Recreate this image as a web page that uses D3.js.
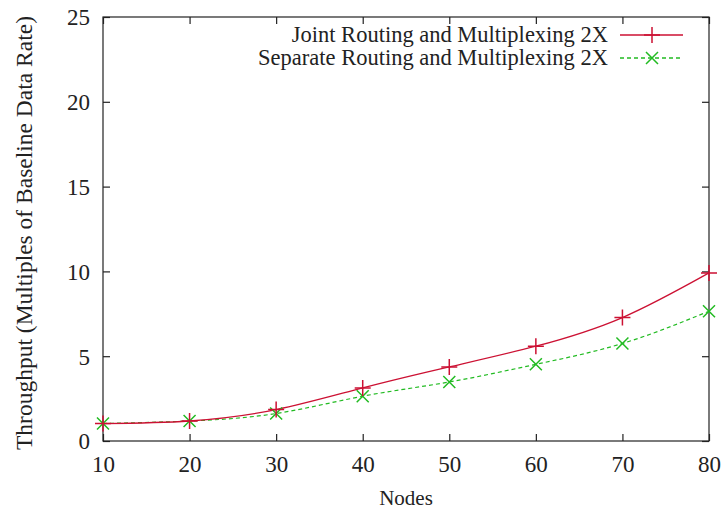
<!DOCTYPE html>
<html>
<head>
<meta charset="utf-8">
<script src="https://cdn.jsdelivr.net/npm/d3@7"></script>
<style>
  body { margin: 0; background: #fff; }
  svg { display: block; font-family: "Liberation Serif", "Times New Roman", serif; }
</style>
</head>
<body>
<svg id="chart" width="726" height="509"></svg>
<script>
const nodes = [10, 20, 30, 40, 50, 60, 70, 80];
const jointValues = [1.03, 1.18, 1.85, 3.13, 4.37, 5.59, 7.28, 9.91];
const separateValues = [1.03, 1.18, 1.62, 2.64, 3.48, 4.52, 5.75, 7.65];
const seriesNames = ["Joint Routing and Multiplexing 2X", "Separate Routing and Multiplexing 2X"];
const xTicks = [10, 20, 30, 40, 50, 60, 70, 80];
const yTicks = [0, 5, 10, 15, 20, 25];
const xLabel = "Nodes";
const yLabel = "Throughput (Multiples of Baseline Data Rate)";

(function () {
const svg = d3.select("#chart");
const pL = 103, pR = 709, pT = 17, pB = 441;
const x = d3.scaleLinear().domain([10, 80]).range([pL, pR]);
const y = d3.scaleLinear().domain([0, 25]).range([pB, pT]);

const red = "#cc1133", green = "#22bb22";
const tickFont = 23;
const legendFont = 22.5;

// frame
svg.append("rect").attr("x", pL).attr("y", pT).attr("width", pR - pL).attr("height", pB - pT)
  .attr("fill", "none").attr("stroke", "#222").attr("stroke-width", 1.2);

// axes (ticks inward)
const tl = 7;
const axB = svg.append("g").attr("transform", `translate(0,${pB})`)
  .call(d3.axisBottom(x).tickValues(xTicks).tickSizeInner(-tl).tickSizeOuter(0));
const axT = svg.append("g").attr("transform", `translate(0,${pT})`)
  .call(d3.axisTop(x).tickValues(xTicks).tickSizeInner(-tl).tickSizeOuter(0).tickFormat(""));
const axL = svg.append("g").attr("transform", `translate(${pL},0)`)
  .call(d3.axisLeft(y).tickValues(yTicks).tickSizeInner(-tl).tickSizeOuter(0));
const axR = svg.append("g").attr("transform", `translate(${pR},0)`)
  .call(d3.axisRight(y).tickValues(yTicks).tickSizeInner(-tl).tickSizeOuter(0).tickFormat(""));
[axB, axT, axL, axR].forEach(a => {
  a.select(".domain").remove();
  a.selectAll(".tick line").attr("stroke", "#222").attr("stroke-width", 1.2);
  a.selectAll("text").attr("font-family", "Liberation Serif, serif").attr("font-size", tickFont).attr("fill", "#222");
});
axB.selectAll("text").attr("y", 31).attr("dy", 0);
axL.selectAll("text").attr("x", -13).attr("dy", "0.34em");

// axis labels
svg.append("text").attr("x", (pL + pR) / 2).attr("y", 505).attr("text-anchor", "middle")
  .attr("font-size", 21).attr("fill", "#222").text(xLabel);
svg.append("text").attr("transform", `translate(32,233) rotate(-90)`)
  .attr("text-anchor", "middle").attr("font-size", 23.5).attr("fill", "#222").text(yLabel);

// lines
const line = d3.line().x(d => x(d[0])).y(d => y(d[1])).curve(d3.curveNatural);
const jointData = nodes.map((n, i) => [n, jointValues[i]]);
const sepData = nodes.map((n, i) => [n, separateValues[i]]);

svg.append("path").datum(sepData).attr("d", line).attr("fill", "none")
  .attr("stroke", green).attr("stroke-width", 1.2).attr("stroke-dasharray", "4,3");
svg.append("path").datum(jointData).attr("d", line).attr("fill", "none")
  .attr("stroke", red).attr("stroke-width", 1.3);

const ms = 8;
function plus(g, cx, cy, c) {
  g.append("path").attr("d", `M${cx - ms},${cy}H${cx + ms}M${cx},${cy - ms}V${cy + ms}`)
    .attr("stroke", c).attr("stroke-width", 1.5).attr("fill", "none");
}
function cross(g, cx, cy, c) {
  const s = ms * 0.75;
  g.append("path").attr("d", `M${cx - s},${cy - s}L${cx + s},${cy + s}M${cx - s},${cy + s}L${cx + s},${cy - s}`)
    .attr("stroke", c).attr("stroke-width", 1.5).attr("fill", "none");
}
const mk = svg.append("g");
sepData.forEach(d => cross(mk, x(d[0]), y(d[1]), green));
jointData.forEach(d => plus(mk, x(d[0]), y(d[1]), red));

// legend
const legend = svg.append("g");
const rows = [{ name: seriesNames[0], c: red, m: plus, dash: null, yy: 35 },
              { name: seriesNames[1], c: green, m: cross, dash: "4,3", yy: 58 }];
rows.forEach(r => {
  legend.append("text").attr("x", 608).attr("y", r.yy).attr("dy", "0.33em").attr("text-anchor", "end")
    .attr("font-size", legendFont).attr("fill", "#222").text(r.name);
  legend.append("line").attr("x1", 620).attr("x2", 683).attr("y1", r.yy).attr("y2", r.yy)
    .attr("stroke", r.c).attr("stroke-width", 1.3).attr("stroke-dasharray", r.dash);
  r.m(legend, 652, r.yy, r.c);
});
})();
</script>
</body>
</html>
